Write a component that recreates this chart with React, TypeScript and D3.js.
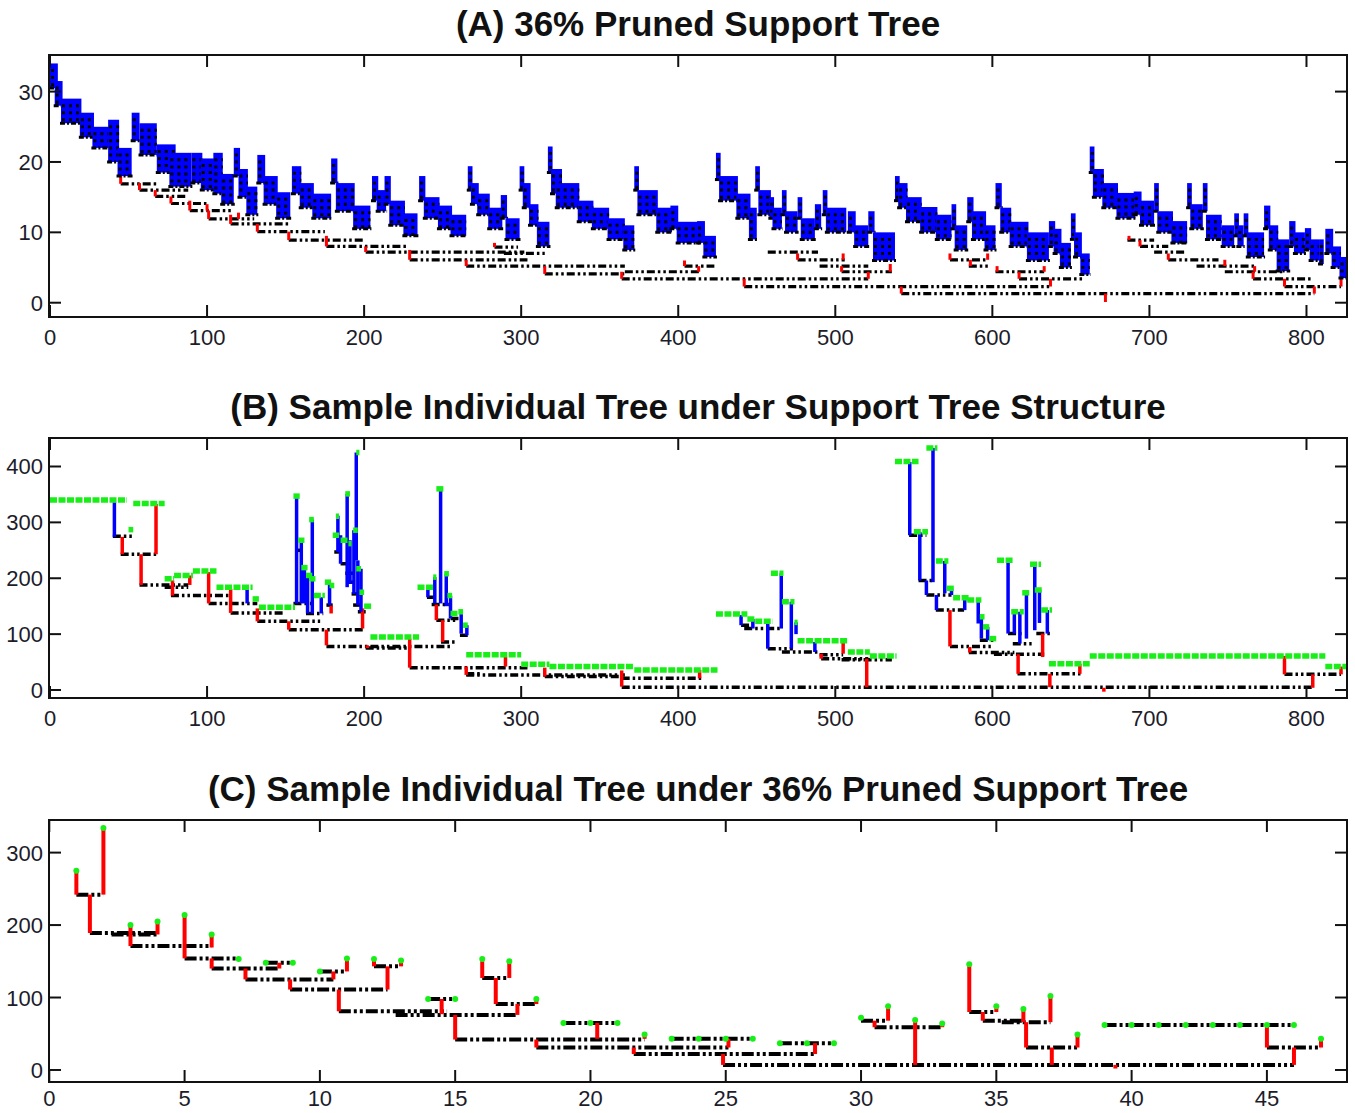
import React from "react";
import * as d3 from "d3";

const FONT = "'Liberation Sans', Arial, Helvetica, sans-serif";
const BLUE = "#0000ff";
const RED = "#ff0000";
const GREEN = "#19ee19";
const BLACK = "#000000";

// ================= Panel A : 36% pruned support tree =================
const aXTicks = [0, 100, 200, 300, 400, 500, 600, 700, 800];
const aYTicks = [0, 10, 20, 30];
// blue leaf blocks [x1, x2, top, bottom]
const aBlue: number[][] = [
  [0, 5, 34, 30.5], [3, 8, 31.5, 28], [7, 20, 29, 25.5], [19, 28, 27, 23.5], [27, 38, 25, 22], [37, 44, 26, 20], [43, 52, 22, 18],
  [52, 57, 27, 23], [57, 68, 25.5, 21], [68, 80, 22.5, 18.5], [76, 90, 21.3, 16.5], [90, 97, 21.3, 17], [96, 105, 20.5, 16], [104, 110, 21.3, 15.5], [109, 117, 18.3, 14],
  [117, 121, 22, 18], [120, 126, 19, 15], [125, 132, 16.5, 12.5],
  [132, 137, 21, 17], [136, 145, 18, 14], [144, 153, 15.7, 12],
  [154, 160, 19.4, 15.5], [159, 168, 17, 13.5], [167, 179, 15.5, 12],
  [179, 183, 20.5, 17], [182, 194, 17, 13], [193, 204, 13.8, 10.5],
  [205, 209, 18, 14.5], [208, 214, 16, 13], [213, 217, 18, 14], [216, 226, 14.5, 11], [225, 234, 12.7, 9.5],
  [235, 239, 18, 14.5], [238, 248, 15, 12], [247, 256, 13.8, 10.5], [255, 265, 12.5, 9.5],
  [266, 269, 19.4, 16], [268, 273, 17, 14], [272, 280, 15.5, 12.5], [279, 288, 13.5, 10.5], [287, 291, 15.3, 12], [290, 299, 12, 9],
  [299, 302, 19.4, 16], [301, 306, 17, 13.5], [305, 311, 14, 11], [310, 318, 11.5, 8],
  [317, 320, 22.2, 18.5], [319, 326, 19, 15.5], [322, 337, 17, 13.5], [336, 346, 14.5, 11.5], [345, 356, 13.5, 10.5], [355, 366, 12, 9], [365, 372, 11, 7.5],
  [372, 375, 19.4, 16], [374, 387, 16, 12.5], [386, 396, 13.5, 10], [395, 400, 13.8, 10.5], [399, 413, 11.5, 8.5], [412, 417, 11.6, 8.5], [416, 424, 9.5, 6.5],
  [424, 427, 21.3, 17.5], [426, 438, 18, 14.5], [437, 446, 15.5, 12], [445, 450, 13.5, 9],
  [449, 452, 19.4, 16], [451, 459, 16, 12.5], [458, 461, 15, 12], [460, 466, 13.5, 10.5], [466, 469, 16, 12.5], [468, 476, 13, 10], [476, 479, 15, 12], [478, 487, 12, 9], [487, 491, 14, 10.5],
  [492, 495, 16, 12.5], [494, 507, 13.5, 10], [508, 513, 13, 10], [512, 521, 11, 8], [521, 525, 13, 10], [524, 538, 10, 6],
  [538, 541, 18, 14.5], [540, 546, 17, 13.5], [545, 555, 15, 11.5], [554, 565, 13.6, 10], [564, 574, 12.5, 9], [574, 577, 14, 10.5], [576, 584, 11, 7.5],
  [584, 588, 15, 11.5], [587, 596, 13, 9], [595, 602, 11, 7.5],
  [602, 606, 17, 13.5], [605, 612, 13.5, 10], [611, 623, 11.5, 8], [622, 636, 10, 6],
  [636, 640, 11.6, 8], [639, 644, 10.5, 7], [643, 650, 8.5, 5],
  [650, 653, 12.7, 9], [652, 657, 10, 6.5], [656, 662, 7, 4],
  [662, 665, 22.2, 18.5], [664, 671, 19, 15], [670, 680, 17, 13.5], [679, 691, 15.6, 12], [690, 695, 15.8, 12.5], [694, 703, 14.5, 11], [703, 706, 17, 13], [705, 715, 13, 10], [714, 724, 11.6, 8.5],
  [724, 727, 17, 13.5], [726, 734, 14, 10.5], [734, 737, 17, 13], [736, 746, 12.5, 9], [746, 754, 11, 8], [754, 757, 12.7, 9.5], [756, 760, 11, 8], [760, 763, 12.7, 9.5], [762, 773, 10, 6.5],
  [773, 777, 13.8, 10.5], [776, 782, 11, 7.5], [781, 789, 9, 4.5],
  [789, 793, 11.6, 8], [792, 799, 10, 7], [799, 803, 10.6, 7.5], [802, 808, 9, 6], [808, 811, 9, 5.5],
  [812, 817, 10.5, 7], [816, 822, 8, 5], [821, 827, 6.5, 3.5],
];
// black merge lines [x1, x2, y]
const aBlack: number[][] = [
  [45, 69, 16.9], [57, 88, 16.0], [67, 88, 15.1], [77, 100, 14.1], [89, 117, 13.1], [101, 130, 11.9], [115, 153, 11.2],
  [132, 175, 10.1], [152, 200, 8.9], [176, 228, 8.0], [201, 302, 7.2], [229, 304, 6.1], [265, 366, 5.2], [315, 366, 4.1],
  [364, 521, 3.4], [442, 637, 2.3], [542, 805, 1.3], [283, 298, 7.9], [289, 315, 7.0], [366, 415, 4.4], [404, 423, 5.2],
  [457, 489, 7.2], [476, 506, 6.1], [490, 521, 5.2], [504, 536, 4.4], [573, 597, 6.1], [585, 599, 5.2], [602, 633, 4.4],
  [617, 658, 3.4], [686, 703, 8.9], [694, 712, 8.0], [703, 723, 7.2], [712, 744, 6.1], [730, 767, 5.2], [748, 786, 4.4],
  [766, 804, 3.4], [786, 822, 2.3],
];
// red connectors [x, top, bottom]
const aRed: number[][] = [
  [45, 18, 16.9], [57, 17, 16], [67, 16, 15.1], [77, 15.1, 14.1], [89, 14.5, 13.1], [101, 13.1, 11.9], [115, 12.5, 11.2],
  [132, 11.2, 10.1], [152, 10.1, 8.9], [176, 9.5, 8], [201, 8, 7.2], [229, 7.5, 6.1], [265, 6.1, 5.2], [315, 5.2, 4.1],
  [364, 4.4, 3.4], [442, 3.4, 2.3], [542, 2.3, 1.3], [672, 1.3, 0.1], [637, 3.4, 2.3], [805, 2.3, 1.3], [786, 3.4, 2.3],
  [822, 3.4, 2.3], [283, 8.5, 7.9], [413, 5.2, 4.4], [404, 6, 5.2], [476, 7, 6.1], [505, 7, 6.1], [521, 4.4, 3.4],
  [504, 5.2, 4.4], [535, 5.5, 4.4], [573, 7, 6.1], [597, 7, 6.1], [586, 6.1, 5.2], [603, 5.2, 4.4], [633, 5.2, 4.4],
  [617, 4.4, 3.4], [687, 9.5, 8.9], [694, 8.9, 8.0], [712, 7, 6.1], [748, 6.1, 5.2], [767, 5.2, 4.4], [766, 4.4, 3.4],
  [100, 14, 13.1], [120, 12.8, 11.9],
];

// ================= Panel B : individual tree under support structure =================
const bXTicks = [0, 100, 200, 300, 400, 500, 600, 700, 800];
const bYTicks = [0, 100, 200, 300, 400];
// green leaf runs [x1, x2, y]
const bGreen: number[][] = [
  [0, 49, 340], [50, 53, 287], [53, 73, 334], [73, 79, 199], [79, 91, 205], [91, 106, 213], [106, 129, 184], [129, 133, 163], [133, 156, 148],
  [155, 159, 347], [158, 162, 268], [160, 164, 219], [163, 167, 205], [165, 168, 305], [165, 169, 199], [168, 175, 169], [175, 179, 193],
  [178, 181, 187], [180, 184, 277], [182, 184, 311], [185, 190, 268], [188, 191, 351], [190, 192, 262], [193, 196, 286], [195, 197, 425],
  [195, 198, 217], [197, 200, 175], [200, 205, 150], [204, 235, 95],
  [234, 244, 184], [244, 246, 202], [246, 251, 360], [251, 254, 208], [253, 256, 169], [255, 260, 137], [260, 263, 140], [263, 266, 116],
  [265, 300, 63], [300, 318, 46], [318, 372, 42], [372, 425, 36],
  [424, 444, 136], [444, 449, 127], [449, 460, 123], [459, 467, 209], [466, 474, 158], [474, 476, 121],
  [476, 508, 88], [508, 522, 68], [522, 539, 61],
  [538, 553, 409], [550, 559, 283], [558, 565, 433], [564, 572, 231], [571, 576, 182], [575, 585, 165], [584, 593, 161], [592, 595, 131],
  [594, 598, 113], [598, 603, 92], [603, 613, 232], [612, 620, 140], [619, 624, 174], [624, 631, 225], [627, 632, 179], [631, 638, 143],
  [636, 662, 47], [662, 812, 61], [812, 827, 42],
];
// blue edges [x, top, bottom]
const bBlue: number[][] = [
  [41, 336, 274], [125.5, 182, 155],
  [157, 345, 155], [160, 268, 155], [162, 217, 155], [164, 205, 137], [167, 305, 137], [172.7, 166, 137], [178, 190, 152],
  [183.3, 312, 247], [185, 277, 226], [189.2, 351, 184], [191, 268, 190], [193.5, 286, 172], [195, 425, 232], [196, 232, 152], [198, 217, 140],
  [240.6, 184, 166], [245, 202, 155], [248.7, 358, 155], [252.3, 208, 150], [255, 169, 128], [261.8, 140, 101], [265.4, 116, 98],
  [440, 134, 116], [447.5, 127, 110], [457, 119, 74], [465.6, 209, 110], [472, 158, 74], [475, 121, 100], [487, 86, 68],
  [547.4, 408, 277], [553.8, 283, 196], [562.2, 433, 193], [558, 196, 170], [564.4, 170, 143], [569.7, 231, 173], [574, 182, 170],
  [582.4, 165, 143], [591, 161, 119], [593, 131, 92], [597, 113, 89],
  [610, 231, 101], [614, 140, 101], [617.5, 140, 83], [621.7, 174, 92], [627, 225, 107], [630, 179, 120], [635, 143, 101],
];
// red edges [x, top, bottom]
const bRed: number[][] = [
  [46, 274, 243], [67.5, 333, 243], [58, 243, 188], [78, 196, 169], [89, 205, 188], [101, 211, 155], [115, 181, 138], [132, 146, 123],
  [152, 123, 108], [176, 108, 80], [179, 151, 137], [199, 146, 110], [202, 80, 75], [229, 92, 40],
  [246, 153, 125], [250, 125, 86], [265, 42, 27], [290, 60, 42], [315, 40, 24], [364, 35, 6], [413.6, 36, 21],
  [491, 65, 56], [505, 88, 65], [520, 56, 5],
  [573, 143, 78], [585.6, 77, 67], [616.4, 64, 29], [632, 101, 59], [636.6, 29, 5], [655.7, 47, 29],
  [786, 61, 28], [804, 28, 4], [822, 42, 28], [671, 4, -3],
];
// black merge lines [x1, x2, y]
const bBlack: number[][] = [
  [40, 53, 275], [45, 69, 243], [57, 88, 188], [73, 88, 184], [77, 115, 169], [101, 132, 155], [115, 150, 138], [132, 172, 123],
  [152, 200, 108], [176, 255, 78], [201, 228, 75], [229, 304, 40], [265, 366, 27], [265, 274, 29],
  [156, 160, 250], [155, 167, 155], [163, 174, 137], [176, 180, 152], [181, 185, 247], [185, 190, 226], [188, 193, 209],
  [189, 195, 193], [192, 198, 172], [193, 199, 152], [196, 201, 140],
  [240, 245, 166], [243, 255, 153], [246, 258, 125], [255, 262, 128], [261, 266, 98], [249, 258, 86],
  [315, 364, 24], [364, 415, 21], [364, 804, 5],
  [440, 448, 116], [442, 466, 110], [457, 473, 74], [466, 489, 68], [491, 521, 56], [490, 505, 63], [504, 536, 54],
  [547, 558, 277], [553, 562, 196], [558, 574, 170], [564, 582, 143], [592, 601, 89], [573, 599, 78], [585, 614, 67],
  [610, 619, 101], [613, 625, 83], [628, 637, 101], [601, 633, 64], [616, 657, 29], [786, 822, 28],
];

// ================= Panel C : individual tree under pruned support =================
const cXTicks = [0, 5, 10, 15, 20, 25, 30, 35, 40, 45];
const cYTicks = [0, 100, 200, 300];
// leaves [x, y]
const cLeaves: number[][] = [
  [1, 275], [2, 334], [3, 200], [4, 205], [5, 214], [6, 187], [7, 153], [8, 148], [9, 148], [10, 136], [11, 154], [12, 153],
  [13, 151], [14, 98], [15, 98], [16, 153], [17, 150], [18, 98], [19, 65], [20, 65], [21, 65], [22, 49], [23, 43], [24, 43],
  [25, 43], [26, 43], [27, 37], [28, 37], [29, 37], [30, 72], [31, 88], [32, 69], [33, 64], [34, 146], [35, 88], [36, 84],
  [37, 102], [38, 49], [39, 62], [40, 62], [41, 62], [42, 62], [43, 62], [44, 62], [45, 62], [46, 62], [47, 43],
];
// red edges [x, top, bottom]
const cRed: number[][] = [
  [1, 275, 242], [2, 334, 242], [1.5, 242, 189], [3, 200, 171], [4, 205, 187], [5, 214, 154], [6, 187, 169], [6, 154, 140],
  [8.5, 148, 140], [7.25, 140, 125], [11, 153, 136], [10.5, 136, 125], [8.9, 125, 111], [12, 153, 143], [13, 151, 143],
  [12.5, 143, 111], [10.7, 111, 81], [14.5, 98, 77], [16, 150, 127], [17, 150, 127], [16.5, 127, 91], [18, 98, 91],
  [17.3, 91, 76], [15, 76, 42], [20.25, 65, 43], [22, 49, 43], [18, 42, 31], [25.1, 43, 31], [21.6, 31, 22], [28.3, 37, 22],
  [24.9, 22, 7], [31, 88, 68], [30.5, 68, 59], [33, 64, 59], [32, 69, 7], [34, 146, 80], [35, 88, 80], [34.5, 80, 68], [36, 84, 66],
  [37, 102, 66], [36.1, 66, 31], [38, 49, 31], [37.05, 31, 7], [45, 62, 31], [47, 43, 31], [46, 31, 7], [39.4, 7, 2],
];
// black merge lines [x1, x2, y]
const cBlack: number[][] = [
  [1, 2, 242], [1.5, 4, 189], [2.3, 4, 187], [3, 6, 171], [5, 7, 154], [6, 8.5, 140], [8, 9, 148], [7.25, 10.5, 125],
  [10, 11, 136], [8.9, 12.5, 111], [12, 13, 143], [10.7, 14.7, 81], [12.8, 17.3, 76], [14, 15, 98], [16, 17, 127],
  [16.5, 18, 91], [15, 22, 42], [19, 21, 65], [23, 26, 43], [18, 25.1, 31], [21.6, 28.3, 22], [27, 29, 37], [24.9, 46, 7],
  [30, 31, 68], [30.5, 33, 59], [34, 35, 80], [34.5, 36, 68], [35.2, 37, 66], [36.1, 38, 31], [39, 46, 62], [45, 47, 31],
];

type Box = { left: number; right: number; top: number; bottom: number };

function Axes({ box, xs, ys, xTicks, yTicks, id, labelDy, children }: any) {
  const tl = 12;
  return (
    <g>
      <defs>
        <clipPath id={id}>
          <rect x={box.left} y={box.top} width={box.right - box.left} height={box.bottom - box.top} />
        </clipPath>
      </defs>
      <g clipPath={`url(#${id})`}>{children}</g>
      <rect x={box.left} y={box.top} width={box.right - box.left} height={box.bottom - box.top} fill="none" stroke="#111" strokeWidth={2} />
      {xTicks.map((t: number) => (
        <g key={"x" + t}>
          <line x1={xs(t)} x2={xs(t)} y1={box.bottom} y2={box.bottom - tl} stroke="#111" strokeWidth={2} />
          <line x1={xs(t)} x2={xs(t)} y1={box.top} y2={box.top + tl} stroke="#111" strokeWidth={2} />
          <text x={xs(t)} y={box.bottom + labelDy} textAnchor="middle" fontFamily={FONT} fontSize={22} fill="#1c1c2a">{t}</text>
        </g>
      ))}
      {yTicks.map((t: number) => (
        <g key={"y" + t}>
          <line x1={box.left} x2={box.left + tl} y1={ys(t)} y2={ys(t)} stroke="#111" strokeWidth={2} />
          <line x1={box.right} x2={box.right - tl} y1={ys(t)} y2={ys(t)} stroke="#111" strokeWidth={2} />
          <text x={box.left - 6} y={ys(t) + 8} textAnchor="end" fontFamily={FONT} fontSize={22} fill="#1c1c2a">{t}</text>
        </g>
      ))}
    </g>
  );
}

const DASH = "8 3 2.5 3 2.5 3";

export default function App() {
  // Panel A
  const boxA: Box = { left: 49, right: 1347, top: 55, bottom: 317 };
  const axs = d3.scaleLinear().domain([0, 825.8]).range([50, 1347]);
  const ays = d3.scaleLinear().domain([-2.03, 35.2]).range([317, 55]);
  // Panel B
  const boxB: Box = { left: 49, right: 1347, top: 438, bottom: 698 };
  const bxs = axs;
  const bys = d3.scaleLinear().domain([-14.3, 451]).range([698, 438]);
  // Panel C
  const boxC: Box = { left: 49, right: 1347, top: 820, bottom: 1082 };
  const cxs = d3.scaleLinear().domain([0, 47.96]).range([49.3, 1347]);
  const cys = d3.scaleLinear().domain([-16.6, 345]).range([1082, 820]);

  const title = (txt: string, y: number) => (
    <text x={698} y={y} textAnchor="middle" fontFamily={FONT} fontWeight="bold" fontSize={35} fill="#111">{txt}</text>
  );

  return (
    <svg width={1355} height={1113} style={{ display: "block", position: "absolute", left: 0, top: 0, background: "#fff" }}>
      <rect x={0} y={0} width={1355} height={1113} fill="#fff" />
      {title("(A) 36% Pruned Support Tree", 36)}
      {title("(B) Sample Individual Tree under Support Tree Structure", 419)}
      {title("(C) Sample Individual Tree under 36% Pruned Support Tree", 801)}

      <Axes box={boxA} xs={axs} ys={ays} xTicks={aXTicks} yTicks={aYTicks} id="clipA" labelDy={28}>
        {aBlack.map((d, i) => (
          <line key={"ab" + i} x1={axs(d[0])} x2={axs(d[1])} y1={ays(d[2])} y2={ays(d[2])} stroke={BLACK} strokeWidth={3.2} strokeDasharray={DASH} />
        ))}
        {aRed.map((d, i) => (
          <line key={"ar" + i} x1={axs(d[0])} x2={axs(d[0])} y1={ays(d[1])} y2={ays(d[2])} stroke={RED} strokeWidth={3} />
        ))}
        {aBlue.map((d, i) => {
          const levels: number[] = [];
          for (let v = d[2] - 1; v > d[3]; v -= 1) levels.push(v);
          return (
            <g key={"abl" + i}>
              <rect x={axs(d[0])} y={ays(d[2])} width={Math.max(3, axs(d[1]) - axs(d[0]))} height={ays(d[3]) - ays(d[2])} fill={BLUE} />
              {levels.map((v, j) => (
                <line key={j} x1={axs(d[0]) + 1} x2={axs(d[1])} y1={ays(v)} y2={ays(v)} stroke={BLACK} strokeWidth={3} strokeDasharray="3 4" />
              ))}
              <line x1={axs(d[0]) - 1} x2={axs(d[1]) + 1} y1={ays(d[3])} y2={ays(d[3])} stroke={BLACK} strokeWidth={3} strokeDasharray="5 2 2 2" />
            </g>
          );
        })}
      </Axes>

      <Axes box={boxB} xs={bxs} ys={bys} xTicks={bXTicks} yTicks={bYTicks} id="clipB" labelDy={28}>
        {bBlack.map((d, i) => (
          <line key={"bb" + i} x1={bxs(d[0])} x2={bxs(d[1])} y1={bys(d[2])} y2={bys(d[2])} stroke={BLACK} strokeWidth={3.5} strokeDasharray={DASH} />
        ))}
        {bRed.map((d, i) => (
          <line key={"br" + i} x1={bxs(d[0])} x2={bxs(d[0])} y1={bys(d[1])} y2={bys(d[2])} stroke={RED} strokeWidth={3.5} />
        ))}
        {bBlue.map((d, i) => (
          <line key={"bl" + i} x1={bxs(d[0])} x2={bxs(d[0])} y1={bys(d[1])} y2={bys(d[2])} stroke={BLUE} strokeWidth={3.5} />
        ))}
        {bGreen.map((d, i) => (
          <line key={"bg" + i} x1={bxs(d[0])} x2={bxs(d[1])} y1={bys(d[2])} y2={bys(d[2])} stroke={GREEN} strokeWidth={5.5} strokeDasharray="7 1.5" />
        ))}
      </Axes>

      <Axes box={boxC} xs={cxs} ys={cys} xTicks={cXTicks} yTicks={cYTicks} id="clipC" labelDy={24}>
        {cBlack.map((d, i) => (
          <line key={"cb" + i} x1={cxs(d[0])} x2={cxs(d[1])} y1={cys(d[2])} y2={cys(d[2])} stroke={BLACK} strokeWidth={4} strokeDasharray="12 3 3 3 3 3" />
        ))}
        {cRed.map((d, i) => (
          <line key={"cr" + i} x1={cxs(d[0])} x2={cxs(d[0])} y1={cys(d[1])} y2={cys(d[2])} stroke={RED} strokeWidth={4} />
        ))}
        {cLeaves.map((d, i) => (
          <circle key={"cg" + i} cx={cxs(d[0])} cy={cys(d[1])} r={3} fill={GREEN} />
        ))}
      </Axes>
    </svg>
  );
}
